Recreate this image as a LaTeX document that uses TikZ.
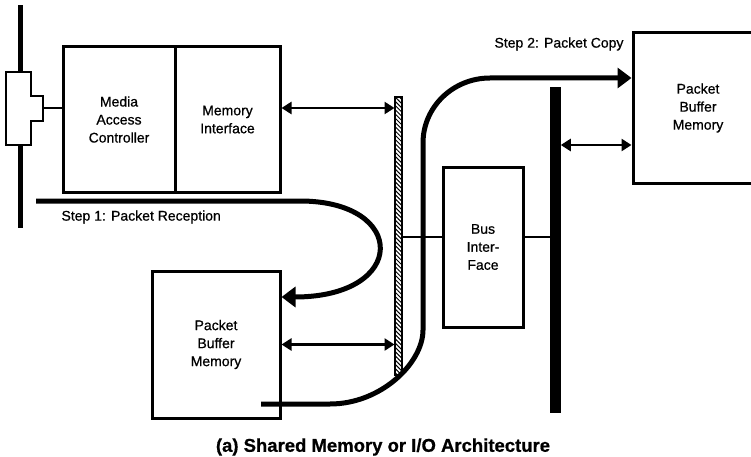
\documentclass[tikz,border=0pt]{standalone}
\usepackage{fontspec}
\setmainfont{Liberation Sans}[FakeBold=0.7]
\usetikzlibrary{arrows.meta,patterns.meta}
\begin{document}
\begin{tikzpicture}[x=1pt, y=-1pt, font=\fontsize{14}{18}\selectfont,
  box/.style={draw, line width=3pt, inner sep=0pt, align=center},
  bar/.style={draw, line width=1.5pt, inner sep=0pt, minimum width=7pt},
  link/.style={line width=2pt},
  dbl/.style={line width=2.5pt, {Triangle[length=10pt,width=12pt]}-{Triangle[length=10pt,width=12pt]}},
  flow/.style={line width=5pt, -{Triangle[length=14pt,width=20pt]}}]
  \useasboundingbox (0,0) rectangle (751,457);
  % network cable and tap
  \fill (18,5) rectangle (23,228);
  \draw[line width=2.5pt, fill=white] (6,72) -- (31,72) -- (31,96) -- (43,96) -- (43,121) -- (31,121) -- (31,145) -- (6,145) -- cycle;
  \coordinate (tap) at (43,108);
  % boxes
  \node[box, minimum width=112pt, minimum height=145pt] (mac) at (119,119.5) {Media\\Access\\Controller};
  \node[box, minimum width=105pt, minimum height=145pt] (memif) at (227.5,119.5) {Memory\\Interface};
  \node[box, minimum width=128pt, minimum height=147pt] (pbmL) at (216,344.5) {Packet\\Buffer\\Memory};
  \node[box, minimum width=130pt, minimum height=150pt] (pbmR) at (698,108) {Packet\\Buffer\\Memory};
  \node[box, minimum width=80pt, minimum height=160pt] (bus) at (483,247) {Bus\\Inter-\\Face};
  % buses
  \node[bar, pattern={Lines[angle=-45, distance=3pt, line width=1pt]}, minimum height=278pt] (hbar) at (398.5,236) {};
  \node[bar, fill, minimum width=9pt, minimum height=324pt] (sbar) at (555.5,250) {};
  % links
  \coordinate (busline) at (0,237);
  \coordinate (rlink) at (0,145);
  \draw[link] (tap) -- (tap -| mac.west);
  \draw[dbl] (memif.east |- tap) -- (hbar.west |- tap);
  \draw[link] (hbar.east |- busline) -- (bus.west |- busline);
  \draw[link] (bus.east |- busline) -- (sbar.west |- busline);
  \draw[dbl] (pbmL.east) -- (pbmL.east -| hbar.west);
  \draw[dbl] (sbar.east |- rlink) -- (pbmR.west |- rlink);
  % packet steps
  \coordinate (s1) at (36,201);
  \coordinate (s2) at (261,404);
  \draw[flow] (s1) -- (300,201) .. controls (408,201) and (408,297) .. (pbmL.east |- 0,297);
  \draw[flow] (s2) -- (330,404) .. controls (381,404) and (423,363) .. (423,330) -- (423,143) .. controls (423,107) and (453,78) .. (490,78) -- (pbmR.west |- 0,78);
  \node[anchor=west] (step1) at (58,217) {Step 1: Packet Reception};
  \node[anchor=west] (step2) at (491,44) {Step 2: Packet Copy};
  \node[font=\bfseries\fontsize{18.5}{22}\selectfont] (caption) at (383,447) {(a) Shared Memory or I/O Architecture};
\end{tikzpicture}
\end{document}
